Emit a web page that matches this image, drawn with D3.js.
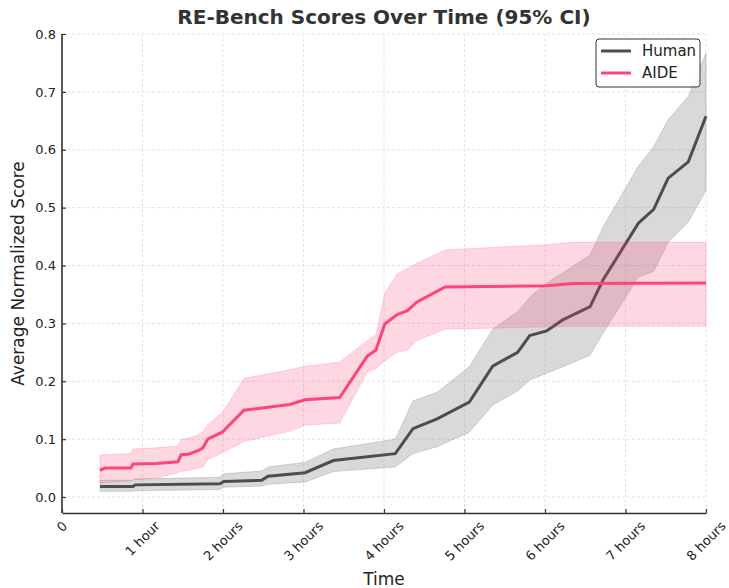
<!DOCTYPE html>
<html>
<head>
<meta charset="utf-8">
<script src="https://cdn.jsdelivr.net/npm/d3@7"></script>
<style>
  body { margin: 0; background: #fff; }
  svg { font-family: "DejaVu Sans", sans-serif; }
</style>
</head>
<body>
<div id="chart"></div>
<script>
// time in hours, scores
let humanHours = [0.472, 0.882, 0.907, 1.963, 2.01, 2.48, 2.56, 3.02, 3.37, 4.14, 4.36, 4.66, 5.06, 5.35, 5.66, 5.81, 6.02, 6.22, 6.56, 6.72, 7.16, 7.35, 7.53, 7.78, 8.0];
let humanMean = [0.018, 0.018, 0.021, 0.023, 0.027, 0.029, 0.036, 0.042, 0.063, 0.075, 0.118, 0.135, 0.164, 0.226, 0.250, 0.279, 0.287, 0.306, 0.329, 0.375, 0.473, 0.497, 0.551, 0.579, 0.658];
let humanLow = [0.010, 0.010, 0.011, 0.013, 0.017, 0.019, 0.022, 0.026, 0.044, 0.052, 0.075, 0.087, 0.112, 0.159, 0.183, 0.202, 0.214, 0.225, 0.245, 0.283, 0.380, 0.390, 0.440, 0.475, 0.530];
let humanHigh = [0.029, 0.029, 0.031, 0.034, 0.040, 0.045, 0.052, 0.060, 0.083, 0.100, 0.166, 0.181, 0.225, 0.290, 0.320, 0.345, 0.370, 0.387, 0.418, 0.466, 0.572, 0.605, 0.652, 0.692, 0.767];

let aideHours = [0.472, 0.534, 0.857, 0.882, 1.18, 1.44, 1.48, 1.57, 1.69, 1.75, 1.81, 1.99, 2.26, 2.83, 3.02, 3.45, 3.79, 3.90, 4.01, 4.16, 4.29, 4.41, 4.76, 6.02, 6.35, 8.0];
let aideMean = [0.046, 0.050, 0.050, 0.057, 0.058, 0.061, 0.073, 0.074, 0.080, 0.085, 0.100, 0.112, 0.150, 0.160, 0.168, 0.172, 0.243, 0.254, 0.299, 0.315, 0.322, 0.337, 0.363, 0.365, 0.369, 0.370];
let aideLow = [0.024, 0.025, 0.028, 0.030, 0.033, 0.042, 0.045, 0.046, 0.050, 0.052, 0.065, 0.076, 0.096, 0.114, 0.124, 0.128, 0.216, 0.222, 0.235, 0.250, 0.254, 0.271, 0.290, 0.294, 0.295, 0.295];
let aideHigh = [0.072, 0.073, 0.075, 0.083, 0.085, 0.088, 0.100, 0.101, 0.107, 0.113, 0.125, 0.145, 0.205, 0.220, 0.226, 0.233, 0.270, 0.280, 0.352, 0.385, 0.395, 0.404, 0.427, 0.436, 0.440, 0.440];

let xTicks = [0, 1, 2, 3, 4, 5, 6, 7, 8];
let xTickLabels = ["0", "1 hour", "2 hours", "3 hours", "4 hours", "5 hours", "6 hours", "7 hours", "8 hours"];
let yTicks = [0, 0.1, 0.2, 0.3, 0.4, 0.5, 0.6, 0.7, 0.8];

let svgWidth = 729;
let svgHeight = 588;
let margin = { top: 34, right: 23, bottom: 75, left: 62 };
let width = svgWidth - margin.left - margin.right;
let height = svgHeight - margin.top - margin.bottom;

let svg = d3.select("#chart").append("svg")
  .attr("width", svgWidth)
  .attr("height", svgHeight);

let g = svg.append("g")
  .attr("transform", `translate(${margin.left}, ${margin.top})`);

let x = d3.scaleLinear().domain([0, 8]).range([0, width]);
let y = d3.scaleLinear().domain([-0.0276, 0.8]).range([height, 0]);

// grid
g.append("g").selectAll("line").data(yTicks).enter().append("line")
  .attr("x1", 0).attr("x2", width)
  .attr("y1", d => y(d)).attr("y2", d => y(d))
  .attr("stroke", "#e3e3e3").attr("stroke-dasharray", "3,2");
g.append("g").selectAll("line").data(xTicks).enter().append("line")
  .attr("x1", d => x(d)).attr("x2", d => x(d))
  .attr("y1", 0).attr("y2", height)
  .attr("stroke", "#e3e3e3").attr("stroke-dasharray", "3,2");

function rows(hours, mean, low, high) {
  return hours.map((h, i) => ({ h: h, m: mean[i], lo: low[i], hi: high[i] }));
}
let human = rows(humanHours, humanMean, humanLow, humanHigh);
let aide = rows(aideHours, aideMean, aideLow, aideHigh);

let area = d3.area().x(d => x(d.h)).y0(d => y(d.lo)).y1(d => y(d.hi));
let line = d3.line().x(d => x(d.h)).y(d => y(d.m));

g.append("path").datum(human).attr("d", area)
  .attr("fill", "#808080").attr("fill-opacity", 0.3)
  .attr("stroke", "#808080").attr("stroke-opacity", 0.3);
g.append("path").datum(human).attr("d", line)
  .attr("fill", "none").attr("stroke", "#4d4d4d").attr("stroke-width", 3);

g.append("path").datum(aide).attr("d", area)
  .attr("fill", "#ff4477").attr("fill-opacity", 0.21)
  .attr("stroke", "#ff4477").attr("stroke-opacity", 0.21);
g.append("path").datum(aide).attr("d", line)
  .attr("fill", "none").attr("stroke", "#ff4477").attr("stroke-width", 3);

// axes
let yAxis = g.append("g")
  .call(d3.axisLeft(y).tickValues(yTicks).tickFormat(d3.format(".1f")).tickSizeInner(-4).tickSizeOuter(0).tickPadding(6));
let xAxis = g.append("g")
  .attr("transform", `translate(0, ${height})`)
  .call(d3.axisBottom(x).tickValues(xTicks).tickFormat("").tickSizeInner(-4).tickSizeOuter(0));

[xAxis, yAxis].forEach(a => {
  a.select(".domain").attr("stroke", "#333").attr("stroke-width", 1.6);
  a.selectAll(".tick line").attr("stroke", "#333").attr("stroke-width", 1.2);
  a.selectAll(".tick text").attr("font-size", 13).attr("fill", "#222")
    .attr("font-family", "DejaVu Sans");
});
yAxis.select(".domain").attr("d", `M0,${height}V0`);

// rotated x labels, bbox centred under the tick like matplotlib
let xLabels = g.append("g").selectAll("text").data(xTicks).enter().append("text")
  .attr("font-size", 13).attr("fill", "#222")
  .attr("text-anchor", "middle").attr("dy", "0.35em")
  .text((d, i) => xTickLabels[i]);
xLabels.each(function (d) {
  let w = this.getComputedTextLength();
  let half = (w + 13) * 0.7071 / 2;
  d3.select(this).attr("transform", `translate(${x(d)}, ${height + 6 + half}) rotate(-45)`);
});

// titles
svg.append("text")
  .attr("x", margin.left + width / 2).attr("y", 24)
  .attr("text-anchor", "middle")
  .attr("font-size", 20).attr("font-weight", "bold").attr("fill", "#333")
  .text("RE-Bench Scores Over Time (95% CI)");
svg.append("text")
  .attr("x", margin.left + width / 2).attr("y", 585)
  .attr("text-anchor", "middle")
  .attr("font-size", 17).attr("fill", "#222")
  .text("Time");
svg.append("text")
  .attr("transform", `translate(24, ${margin.top + height / 2}) rotate(-90)`)
  .attr("text-anchor", "middle")
  .attr("font-size", 17).attr("fill", "#222")
  .text("Average Normalized Score");

// legend
let legend = svg.append("g").attr("transform", "translate(596, 39)");
legend.append("rect")
  .attr("width", 104).attr("height", 48).attr("rx", 3)
  .attr("fill", "#fff").attr("fill-opacity", 0.85)
  .attr("stroke", "#333").attr("stroke-width", 1);
let items = [{ name: "Human", color: "#4d4d4d" }, { name: "AIDE", color: "#ff4477" }];
items.forEach((it, i) => {
  legend.append("line")
    .attr("x1", 5).attr("x2", 35).attr("y1", 12 + i * 22).attr("y2", 12 + i * 22)
    .attr("stroke", it.color).attr("stroke-width", 3);
  legend.append("text")
    .attr("x", 46).attr("y", 12 + i * 22).attr("dy", "0.35em")
    .attr("font-size", 15).attr("fill", "#222")
    .text(it.name);
});
</script>
</body>
</html>
